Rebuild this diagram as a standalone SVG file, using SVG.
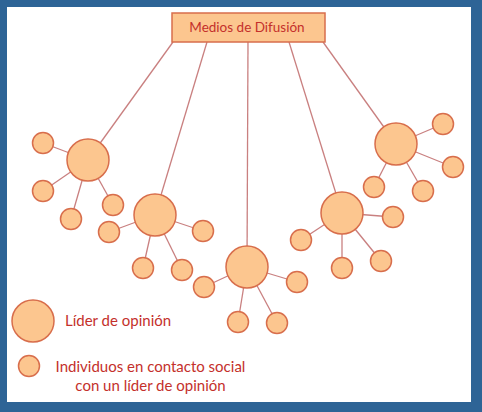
<svg xmlns="http://www.w3.org/2000/svg" width="482" height="412" viewBox="0 0 482 412">
<style>
.hub{fill:#FCC68F;stroke:#D86E4C;stroke-width:1.5}
.sat{fill:#FCC68F;stroke:#D86E4C;stroke-width:1.5}
.ln{stroke:#C98080;stroke-width:1.3;fill:none}
.t{font-family:"Lato","Open Sans",sans-serif;font-size:15px;fill:#C4302B}
.title{font-size:13.5px}
</style>
<rect x="0" y="0" width="482" height="412" fill="#2E6496"/>
<rect x="7" y="7" width="464" height="395" fill="#FFFFFF"/>
<g id="connectors" class="ln">
<line x1="173" y1="42" x2="88" y2="160"/>
<line x1="207" y1="42" x2="155" y2="215"/>
<line x1="248" y1="42" x2="247" y2="267"/>
<line x1="289" y1="42" x2="342" y2="213"/>
<line x1="323" y1="42" x2="396" y2="144"/>
<line x1="88" y1="160" x2="43" y2="143"/>
<line x1="88" y1="160" x2="43" y2="191"/>
<line x1="88" y1="160" x2="71" y2="219"/>
<line x1="88" y1="160" x2="113" y2="205"/>
<line x1="155" y1="215" x2="109" y2="232"/>
<line x1="155" y1="215" x2="203" y2="231"/>
<line x1="155" y1="215" x2="143" y2="268"/>
<line x1="155" y1="215" x2="182" y2="270"/>
<line x1="247" y1="267" x2="204" y2="287"/>
<line x1="247" y1="267" x2="297" y2="282"/>
<line x1="247" y1="267" x2="238" y2="322"/>
<line x1="247" y1="267" x2="277" y2="323"/>
<line x1="342" y1="213" x2="301" y2="240"/>
<line x1="342" y1="213" x2="393" y2="217"/>
<line x1="342" y1="213" x2="342" y2="268"/>
<line x1="342" y1="213" x2="381" y2="261"/>
<line x1="396" y1="144" x2="443" y2="124"/>
<line x1="396" y1="144" x2="453" y2="167"/>
<line x1="396" y1="144" x2="374" y2="187"/>
<line x1="396" y1="144" x2="423" y2="191"/>
</g>
<g id="medios">
<rect x="172" y="13" width="153" height="29" fill="#FCC68F" stroke="#D86E4C" stroke-width="1.5"/>
<text class="t title" x="247" y="32" text-anchor="middle">Medios de Difusión</text>
</g>
<g id="grupo1">
<circle class="hub" cx="88" cy="160" r="21"/>
<circle class="sat" cx="43" cy="143" r="10.5"/>
<circle class="sat" cx="43" cy="191" r="10.5"/>
<circle class="sat" cx="71" cy="219" r="10.5"/>
<circle class="sat" cx="113" cy="205" r="10.5"/>
</g>
<g id="grupo2">
<circle class="hub" cx="155" cy="215" r="21"/>
<circle class="sat" cx="109" cy="232" r="10.5"/>
<circle class="sat" cx="203" cy="231" r="10.5"/>
<circle class="sat" cx="143" cy="268" r="10.5"/>
<circle class="sat" cx="182" cy="270" r="10.5"/>
</g>
<g id="grupo3">
<circle class="hub" cx="247" cy="267" r="21"/>
<circle class="sat" cx="204" cy="287" r="10.5"/>
<circle class="sat" cx="297" cy="282" r="10.5"/>
<circle class="sat" cx="238" cy="322" r="10.5"/>
<circle class="sat" cx="277" cy="323" r="10.5"/>
</g>
<g id="grupo4">
<circle class="hub" cx="342" cy="213" r="21"/>
<circle class="sat" cx="301" cy="240" r="10.5"/>
<circle class="sat" cx="393" cy="217" r="10.5"/>
<circle class="sat" cx="342" cy="268" r="10.5"/>
<circle class="sat" cx="381" cy="261" r="10.5"/>
</g>
<g id="grupo5">
<circle class="hub" cx="396" cy="144" r="21"/>
<circle class="sat" cx="443" cy="124" r="10.5"/>
<circle class="sat" cx="453" cy="167" r="10.5"/>
<circle class="sat" cx="374" cy="187" r="10.5"/>
<circle class="sat" cx="423" cy="191" r="10.5"/>
</g>
<g id="leyenda-lider">
<circle class="hub" cx="33" cy="321" r="21"/>
<text class="t" x="65" y="326">Líder de opinión</text>
</g>
<g id="leyenda-individuos">
<circle class="sat" cx="29" cy="366" r="10.5"/>
<text class="t" x="150.5" y="372" text-anchor="middle">Individuos en contacto social</text>
<text class="t" x="150.5" y="391" text-anchor="middle">con un líder de opinión</text>
</g>
</svg>
